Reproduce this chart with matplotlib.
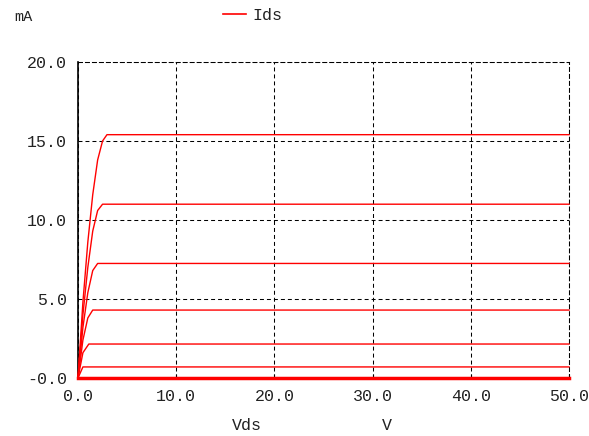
import matplotlib
matplotlib.use("Agg")
import matplotlib.pyplot as plt
from matplotlib.ticker import FixedLocator

# Data (Vds in V, Ids in mA)
vds_1 = [0.0, 0.5, 1.0, 1.5, 2.0, 2.5, 2.95, 50.0]
ids_1 = [0.0, 4.8, 8.6, 11.6, 13.8, 15.0, 15.4, 15.4]
vds_2 = [0.0, 0.5, 1.0, 1.5, 2.0, 2.5, 50.0]
ids_2 = [0.0, 4.0, 7.0, 9.3, 10.6, 11.0, 11.0]
vds_3 = [0.0, 0.5, 1.0, 1.5, 2.0, 50.0]
ids_3 = [0.0, 3.2, 5.4, 6.8, 7.25, 7.25]
vds_4 = [0.0, 0.5, 1.0, 1.5, 50.0]
ids_4 = [0.0, 2.4, 3.8, 4.3, 4.3]
vds_5 = [0.0, 0.5, 1.1, 50.0]
ids_5 = [0.0, 1.6, 2.15, 2.15]
vds_6 = [0.0, 0.5, 50.0]
ids_6 = [0.0, 0.7, 0.7]
vds_7 = [0.0, 50.0]
ids_7 = [0.0, 0.0]

x_ticks = [0, 10, 20, 30, 40, 50]
x_labels = ["0.0", "10.0", "20.0", "30.0", "40.0", "50.0"]
y_ticks = [0, 5, 10, 15, 20]
y_labels = ["-0.0", "5.0", "10.0", "15.0", "20.0"]

W, H = 589, 436
fig = plt.figure(figsize=(W / 100, H / 100), dpi=100)
ax = fig.add_axes([78 / W, (H - 378) / H, (569 - 78) / W, (378 - 62) / H])

font = "Liberation Mono"
red = "#ff0000"
dash = (0, (3.8, 2.9))

curves = [(vds_1, ids_1), (vds_2, ids_2), (vds_3, ids_3), (vds_4, ids_4),
          (vds_5, ids_5), (vds_6, ids_6)]
for i, (x, y) in enumerate(curves):
    ax.plot(x, y, color=red, lw=1.0, label="Ids" if i == 0 else None, clip_on=False, zorder=3)
ax.plot(vds_7, ids_7, color=red, lw=2.5, clip_on=False, zorder=4)

ax.set_xlim(0, 50)
ax.set_ylim(0, 20)
ax.xaxis.set_major_locator(FixedLocator(x_ticks))
ax.yaxis.set_major_locator(FixedLocator(y_ticks))
ax.set_xticklabels(x_labels, fontfamily=font, fontsize=12, color="#222222")
ax.set_yticklabels(y_labels, fontfamily=font, fontsize=12, color="#222222")
ax.tick_params(axis="x", direction="in", length=3, width=0.8, pad=8, colors="black")
ax.tick_params(axis="x", labelcolor="#222222")
ax.tick_params(axis="y", direction="in", length=0, pad=8)

ax.grid(True, color="black", linestyle=dash, lw=0.75)
for s in ["top", "right"]:
    ax.spines[s].set_linestyle(dash)
    ax.spines[s].set_linewidth(0.75)
for s in ["left", "bottom"]:
    ax.spines[s].set_linewidth(1.2)

fig.text(14 / W, 1 - 17 / H, "mA", fontfamily=font, fontsize=11, va="center", ha="left", color="#222222")
fig.text(232 / W, 1 - 425 / H, "Vds", fontfamily=font, fontsize=12, va="center", ha="left", color="#222222")
fig.text(382 / W, 1 - 425 / H, "V", fontfamily=font, fontsize=12, va="center", ha="left", color="#222222")

# legend
fig.lines.append(plt.Line2D([223 / W, 246 / W], [1 - 14 / H, 1 - 14 / H],
                            transform=fig.transFigure, color=red, lw=1.2))
fig.text(252 / W, 1 - 15 / H, "Ids", fontfamily=font, fontsize=12, va="center", ha="left", color="#222222")

fig.savefig("out.png", dpi=100)
